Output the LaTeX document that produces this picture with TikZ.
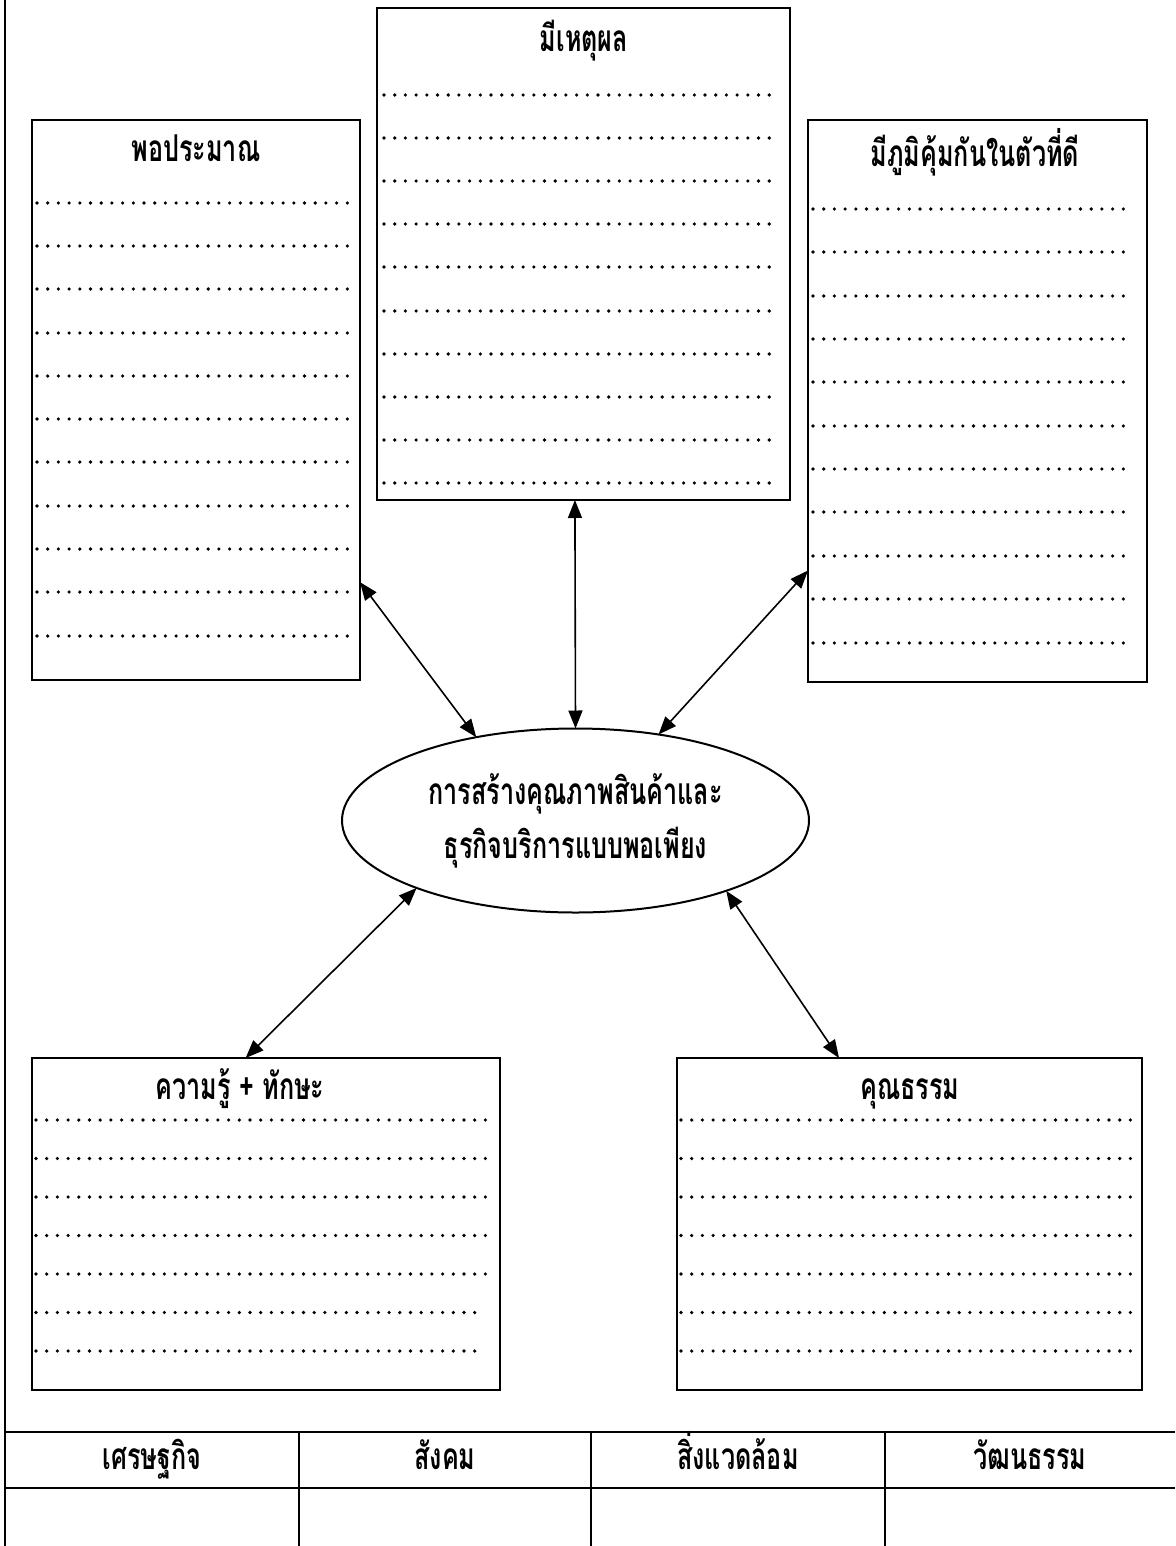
\documentclass[tikz,border=0pt]{standalone}
\usepackage{fontspec}
\newfontfamily\thai[Script=Thai,FakeStretch=0.68]{Loma}
\usetikzlibrary{arrows.meta,shapes.geometric}
\begin{document}
\begin{tikzpicture}[x=0.5pt,y=-0.5pt,
  box/.style={draw,line width=1pt,inner sep=0pt,outer sep=0pt},
  ttl/.style={font=\thai\bfseries\fontsize{18.5}{27}\selectfont,inner sep=0pt,align=center,
              text height=14pt,text depth=5pt},
  dotrow/.style={line width=1.8pt,line cap=round,dash pattern=on 0pt off 5.35pt},
  link/.style={line width=0.8pt,{Triangle[length=9pt,width=7pt]}-{Triangle[length=9pt,width=7pt]}},
  rulel/.style={line width=1.4pt}]
\useasboundingbox (0,0) rectangle (1175,1546);

% boxes
\node[box,minimum width=206.5pt,minimum height=246pt] (T) at (583.5,254) {};
\node[box,minimum width=164pt,minimum height=280pt] (L) at (196,400) {};
\node[box,minimum width=169.5pt,minimum height=281pt] (R) at (977.5,401) {};
\node[box,minimum width=234pt,minimum height=166pt] (LL) at (266,1224) {};
\node[box,minimum width=232.5pt,minimum height=166pt] (LR) at (909.5,1224) {};

% ellipse
\node[box,ellipse,minimum width=233.5pt,minimum height=92pt,
      font=\thai\bfseries\fontsize{18.5}{27}\selectfont,align=center] (E) at (575.5,820.5)
  {การสร้างคุณภาพสินค้าและ\\ธุรกิจบริการแบบพอเพียง};

% titles
\node[ttl] (Tt) at (584,43) {มีเหตุผล};
\node[ttl] (Lt) at (196,153) {พอประมาณ};
\node[ttl] (Rt) at (975,158) {มีภูมิคุ้มกันในตัวที่ดี};
\node[ttl] (LLt) at (240,1090) {ความรู้ + ทักษะ};
\node[ttl] (LRt) at (910,1090) {คุณธรรม};

% dotted rows
\foreach \y in {95,138,181,224,267,311,354,397,440,483}
  \draw[dotrow] (384,\y) -- (774,\y);
\foreach \y in {203,246,289,333,376,419,462,506,549,592,636}
  \draw[dotrow] (37,\y) -- (348,\y);
\foreach \y in {209,252,296,339,382,426,469,512,556,599,643}
  \draw[dotrow] (813,\y) -- (1127,\y);
\foreach \y/\e in {1120/487,1158.5/487,1197/487,1235.5/487,1274/490,1312.5/480,1351/478}
  \draw[dotrow] (36,\y) -- (\e,\y);
\foreach \y in {1120,1158.5,1197,1235.5,1274,1312.5,1351}
  \draw[dotrow] (681,\y) -- (1132,\y);

% connectors
\draw[link] (L.-48.3) -- (E.140);
\draw[link] (T.-92.7) -- (E.90);
\draw[link] (R.-135.3) -- (E.46);
\draw[link] (E.203) -- (LL.97.3);
\draw[link] (E.335) -- (LR.113.9);

% frame and table
\draw[rulel] (5,0) -- (5,1546);
\draw[rulel] (5,1432) -- (1175,1432);
\draw[rulel] (5,1488) -- (1175,1488);
\draw[line width=1pt] (299,1432) -- (299,1546);
\draw[line width=1pt] (591,1432) -- (591,1546);
\draw[line width=1pt] (885,1432) -- (885,1546);

\node[ttl] (c1) at (152,1460) {เศรษฐกิจ};
\node[ttl] (c2) at (445,1460) {สังคม};
\node[ttl] (c3) at (738,1460) {สิ่งแวดล้อม};
\node[ttl] (c4) at (1030,1460) {วัฒนธรรม};
\end{tikzpicture}
\end{document}
